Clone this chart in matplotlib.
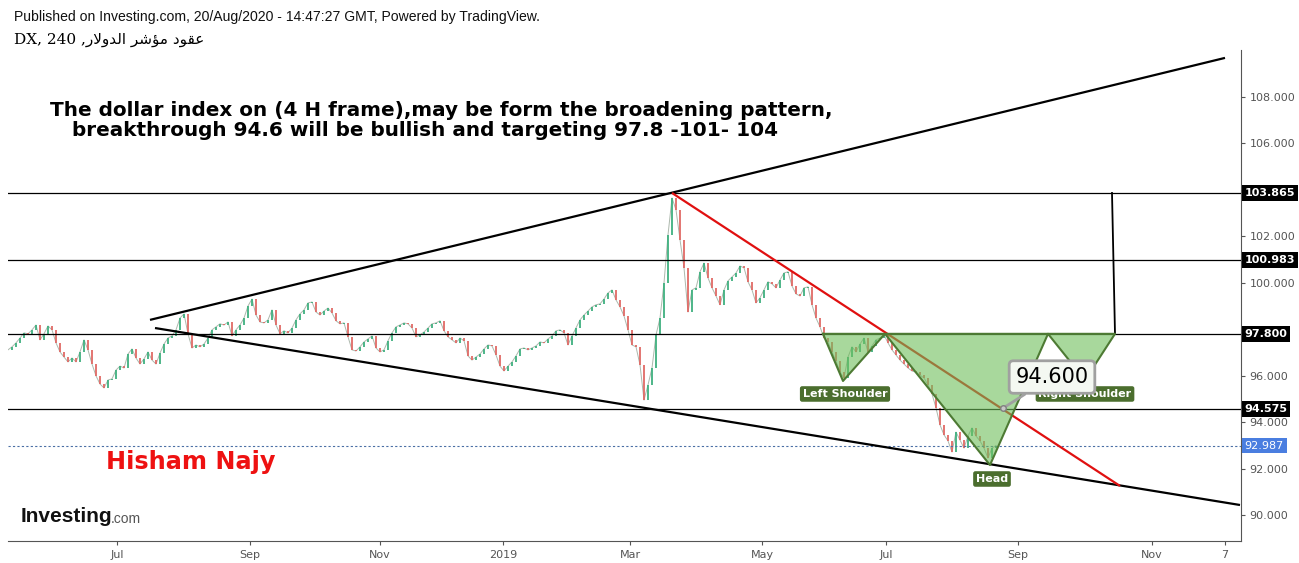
import numpy as np
import matplotlib
matplotlib.use('Agg')
import matplotlib.pyplot as plt
from matplotlib.patches import Polygon

W, H = 1299, 563

# 4H closes of DX (one reading per ~2 trading days)
closes = [
    97.11, 97.24, 97.41, 97.62, 97.84, 97.80, 97.97, 98.18, 97.54, 97.80,
    98.14, 97.97, 97.41, 97.02, 96.80, 96.59, 96.76, 96.59, 97.02, 97.54,
    97.11, 96.50, 95.99, 95.64, 95.47, 95.81, 95.86, 96.24, 96.41, 96.33,
    96.93, 97.15, 96.76, 96.50, 96.72, 97.02, 96.67, 96.50, 96.97, 97.36,
    97.62, 97.71, 97.97, 98.48, 98.66, 97.80, 97.19, 97.32, 97.24, 97.36,
    97.62, 97.97, 98.10, 98.23, 98.18, 98.31, 97.71, 97.97, 98.18, 98.48,
    99.00, 99.30, 98.61, 98.31, 98.27, 98.40, 98.83, 98.18, 97.80, 97.93,
    97.84, 98.05, 98.40, 98.66, 98.83, 99.13, 99.17, 98.74, 98.61, 98.78,
    98.91, 98.70, 98.36, 98.23, 98.27, 97.67, 97.11, 97.06, 97.24, 97.45,
    97.58, 97.71, 97.19, 97.02, 97.11, 97.50, 97.84, 98.10, 98.18, 98.27,
    98.23, 98.05, 97.67, 97.75, 97.88, 98.05, 98.23, 98.27, 98.36, 97.93,
    97.67, 97.54, 97.41, 97.62, 97.50, 96.85, 96.67, 96.80, 96.93, 97.15,
    97.32, 97.28, 96.89, 96.41, 96.20, 96.41, 96.59, 96.85, 97.15, 97.19,
    97.11, 97.19, 97.28, 97.45, 97.41, 97.58, 97.71, 97.93, 97.97, 97.84,
    97.32, 97.71, 98.05, 98.40, 98.61, 98.78, 98.96, 99.05, 99.09, 99.30,
    99.56, 99.69, 99.26, 98.96, 98.57, 97.97, 97.32, 97.24, 96.46, 94.95,
    95.60, 96.33, 97.75, 98.48, 99.99, 102.06, 103.65, 103.14, 101.85, 100.64,
    98.74, 99.69, 99.78, 100.47, 100.85, 100.21, 99.78, 99.43, 99.05, 99.69,
    100.08, 100.25, 100.42, 100.72, 100.64, 100.04, 99.69, 99.13, 99.35, 99.69,
    100.04, 99.95, 99.78, 100.12, 100.42, 100.47, 99.86, 99.52, 99.43, 99.78,
    99.82, 99.05, 98.48, 98.10, 97.62, 97.45, 97.02, 96.63, 96.15, 95.90,
    96.80, 97.24, 97.02, 97.36, 97.62, 97.02, 97.28, 97.54, 97.62, 97.75,
    97.41, 97.11, 96.89, 96.67, 96.50, 96.33, 96.20, 96.15, 96.02, 95.90,
    95.60, 95.21, 94.61, 93.88, 93.45, 93.19, 92.71, 93.57, 93.23, 92.88,
    93.40, 93.75, 93.40, 93.19, 92.88, 92.45, 92.88, 92.99,
]

tick_pos = [27.25, 60.5, 93, 123.75, 155.5, 188.5, 219.5, 252.5, 286, 304.25]
tick_labels = ['Jul', 'Sep', 'Nov', '2019', 'Mar', 'May', 'Jul', 'Sep', 'Nov', '7']

levels = [103.865, 100.983, 97.8, 94.575]
last_price = 92.987

# drawings (bar index, price)
upper_line = [(35.5, 98.40), (304.25, 109.68)]
lower_line = [(36.75, 98.05), (308, 90.43)]
red_line = [(166, 103.865), (278, 91.25)]
target_line = [(276, 103.865), (276.75, 97.8)]
hs_points = [(203.75, 97.8), (208.75, 95.77), (219.25, 97.8), (245.5, 92.15),
             (260, 97.8), (269.25, 95.81), (276.75, 97.8)]
hs_labels = [('Left Shoulder', 209.25, 95.21), ('Head', 246, 91.55),
             ('Right Shoulder', 269.25, 95.21)]
callout_point = (248.75, 94.6)
callout_text = '94.600'


def fx(px):
    return px / W


def fy(py):
    return 1 - py / H


fig = plt.figure(figsize=(W / 100, H / 100), dpi=100)
ax = fig.add_axes([fx(8), fy(541), fx(1241) - fx(8), fy(50) - fy(541)])
ax.set_xlim(0, 308.25)
ax.set_ylim(88.88, 110.02)

c = np.array(closes)
x = np.arange(len(c))
o = np.r_[c[0], c[:-1]]
up = c >= o
ax.plot(x, c, color='#8a9a8a', lw=0.7, alpha=0.7, zorder=2)
ax.vlines(x[up], o[up], c[up], color='#3fb07f', lw=1.3, zorder=2)
ax.vlines(x[~up], o[~up], c[~up], color='#e06a66', lw=1.3, zorder=2)

for lv in levels:
    ax.axhline(lv, color='black', lw=0.9, zorder=3)
ax.axhline(last_price, color='#4a6fa5', lw=0.8, ls=(0, (2, 2)), zorder=3)

for ln, col in [(upper_line, 'black'), (lower_line, 'black'), (red_line, '#e01010')]:
    (x0, y0), (x1, y1) = ln
    ax.plot([x0, x1], [y0, y1], color=col, lw=1.6, zorder=4, solid_capstyle='butt')
(x0, y0), (x1, y1) = target_line
ax.plot([x0, x1], [y0, y1], color='black', lw=1.3, zorder=4)

poly = Polygon(hs_points, closed=True, facecolor='#6ebe5a', alpha=0.6,
               edgecolor='none', zorder=5)
ax.add_patch(poly)
hx, hy = zip(*hs_points)
ax.plot(list(hx) + [hx[0]], list(hy) + [hy[0]], color='#4d7a33', lw=1.5, zorder=6)

for txt, bx, by in hs_labels:
    ax.text(bx, by, txt, ha='center', va='center', color='white', fontsize=8,
            fontweight='bold', zorder=7,
            bbox=dict(boxstyle='round,pad=0.25,rounding_size=0.2',
                      fc='#4b6e2e', ec='none'))

ax.annotate(callout_text, xy=callout_point, xytext=(261, 95.94),
            ha='center', va='center', fontsize=15, zorder=8,
            bbox=dict(boxstyle='round,pad=0.3,rounding_size=0.2',
                      fc='#f4f8f2', ec='#a0a0a0', lw=2),
            arrowprops=dict(arrowstyle='-', color='#a0a0a0', lw=2,
                            shrinkA=0, shrinkB=0))
ax.plot(*callout_point, 'o', ms=4, mfc='#c8c8c8', mec='#808080', zorder=9)

# axes styling
for s in ['left', 'top']:
    ax.spines[s].set_visible(False)
for s in ['bottom', 'right']:
    ax.spines[s].set_color('#555555')
ax.yaxis.tick_right()
yt = np.arange(90, 109, 2)
ax.set_yticks(yt)
# 98 and 104 sit behind the level boxes
ax.set_yticklabels(['' if v in (98, 104) else '%.3f' % v for v in yt])
ax.set_xticks(tick_pos)
ax.set_xticklabels(tick_labels)
ax.tick_params(colors='#555555', labelsize=8, length=3, width=0.8)
ax.tick_params(axis='y', pad=3)

for lv in levels:
    ax.annotate('%.3f' % lv, xy=(1.0, lv), xycoords=('axes fraction', 'data'),
                xytext=(2.5, 0), textcoords='offset points', ha='left', va='center',
                color='white', fontsize=8, fontweight='bold', zorder=20,
                annotation_clip=False,
                bbox=dict(boxstyle='square,pad=0.25', fc='black', ec='none'))
ax.annotate('%.3f' % last_price, xy=(1.0, last_price), xycoords=('axes fraction', 'data'),
            xytext=(2.5, 0), textcoords='offset points', ha='left', va='center',
            color='white', fontsize=8, zorder=20, annotation_clip=False,
            bbox=dict(boxstyle='square,pad=0.25', fc='#4a7ee0', ec='none'))

# texts
fig.text(fx(14), fy(17), 'Published on Investing.com, 20/Aug/2020 - 14:47:27 GMT, Powered by TradingView.',
         family='Liberation Sans', fontsize=10.1, va='center', color='#111111')
fig.text(fx(14), fy(40), 'DX, 240 ,\ufead\ufefb\ufeed\ufeaa\ufedf\ufe8d \ufeae\ufeb7\ufe86\ufee3 \ufea9\ufeee\ufed8\ufecb',
         family=['DejaVu Serif', 'DejaVu Sans'], fontsize=11, va='center')
fig.text(fx(50), fy(110), 'The dollar index on (4 H frame),may be form the broadening pattern,',
         family='DejaVu Sans', fontweight='bold', fontsize=14.4, va='center')
fig.text(fx(72), fy(131), 'breakthrough 94.6 will be bullish and targeting 97.8 -101- 104',
         family='DejaVu Sans', fontweight='bold', fontsize=14.4, va='center')
fig.text(fx(106), fy(462), 'Hisham Najy', color='#ee1111', fontweight='bold',
         fontsize=17.3, va='center')
fig.text(fx(21), fy(517), 'Investing', fontweight='bold', fontsize=15, va='center',
         family='Liberation Sans', color='#111111')
fig.text(fx(111), fy(519), '.com', fontsize=10, va='center',
         family='Liberation Sans', color='#555555')

fig.savefig('out.png', dpi=100)
